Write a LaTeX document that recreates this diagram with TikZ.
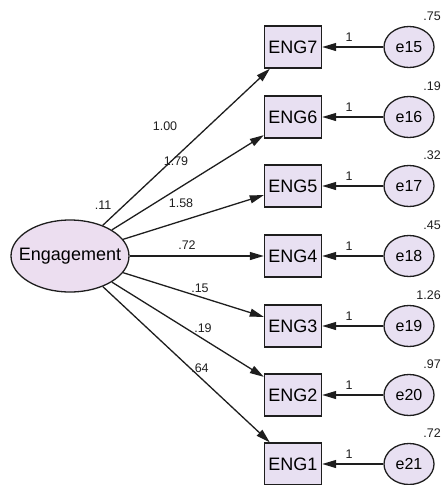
\documentclass[tikz,border=0pt]{standalone}
\usepackage{fontspec}
\setmainfont{Liberation Sans}
\usetikzlibrary{arrows.meta,shapes.geometric}
\definecolor{lav}{RGB}{232,224,242}
\definecolor{lavpink}{RGB}{236,222,240}
\definecolor{ink}{RGB}{30,30,30}
\begin{document}
\begin{tikzpicture}[x=1pt,y=-1pt,
  obs/.style={draw=ink, line width=1.4pt, fill=lav, minimum width=57pt, minimum height=42pt, inner sep=0pt, font=\fontsize{18}{18}\selectfont},
  err/.style={ellipse, draw=ink, line width=1.3pt, fill=lav, minimum width=50pt, minimum height=41pt, inner sep=0pt, font=\fontsize{16}{16}\selectfont},
  lat/.style={ellipse, draw=ink, line width=1.3pt, fill=lavpink, minimum width=118pt, minimum height=72pt, inner sep=0pt, font=\fontsize{18}{18}\selectfont},
  conn/.style={draw=ink, line width=1.3pt, -{Triangle[length=14pt,width=8pt]}},
  lbl/.style={font=\fontsize{12.5}{12.5}\selectfont, inner sep=0pt, text=ink}
]
\useasboundingbox (0,0) rectangle (443,485);

\node[lat] (eng) at (70,256) {\makebox[0pt]{Engagement}};
\node[lbl] (v0) at (103,205) {.11};

\foreach \i/\y/\e/\v/\c/\cx/\cy in {7/47/15/.75/1.00/165/126,
                          6/117/16/.19/1.79/176/161,
                          5/186/17/.32/1.58/181/203,
                          4/256/18/.45/.72/187/245,
                          3/326/19/1.26/.15/200/288,
                          2/395/20/.97/.19/203/328,
                          1/464/21/.72/.64/200/368}{
  \node[obs] (m\i) at (293,\y) {ENG\i};
  \node[err] (e\e) at (409,\y) {\makebox[0pt]{e\e}};
  \node[lbl, anchor=east] (v\e) at (441,\y-31) {\v};
  \node[lbl] (one\i) at (349,\y-10) {1};
  \node[lbl] (c\i) at (\cx,\cy) {\c};
  \draw[conn] (e\e) -- (m\i);
  \draw[conn] (eng) -- (m\i);
}
\end{tikzpicture}
\end{document}
